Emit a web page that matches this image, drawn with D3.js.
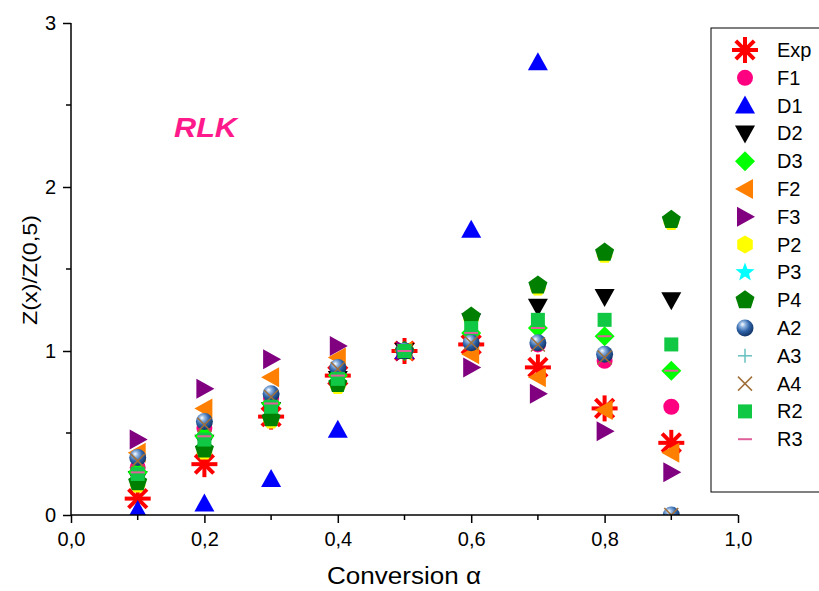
<!DOCTYPE html>
<html>
<head>
<meta charset="utf-8">
<script src="https://cdn.jsdelivr.net/npm/d3@7"></script>
<style>
  html, body { margin: 0; padding: 0; background: #fff; }
  svg { display: block; font-family: Arial, "Liberation Sans", sans-serif; }
</style>
</head>
<body>
<svg id="chart" width="819" height="591"></svg>
<script>
// ---- data ----
const alpha = [0.1, 0.2, 0.3, 0.4, 0.5, 0.6, 0.7, 0.8, 0.9];
const seriesNames = ["Exp", "F1", "D1", "D2", "D3", "F2", "F3", "P2", "P3", "P4", "A2", "A3", "A4", "R2", "R3"];
const Exp = [0.10, 0.31, 0.60, 0.85, 1.00, 1.04, 0.90, 0.65, 0.44];
const F1  = [0.29, 0.53, 0.71, 0.88, 1.00, 1.05, 1.04, 0.94, 0.66];
const D1  = [0.03, 0.07, 0.22, 0.52, 1.00, 1.74, 2.76, null, null];
const D2  = [0.22, 0.44, 0.64, 0.83, 1.00, 1.18, 1.27, 1.33, 1.31];
const D3  = [0.26, 0.48, 0.68, 0.85, 1.00, 1.11, 1.14, 1.09, 0.88];
const F2  = [0.38, 0.65, 0.84, 0.96, 1.00, 0.98, 0.84, 0.64, 0.38];
const F3  = [0.46, 0.77, 0.95, 1.03, 1.00, 0.90, 0.74, 0.51, 0.26];
const P2  = [0.18, 0.38, 0.57, 0.78, 1.00, 1.19, 1.38, 1.58, 1.78];
const P3  = [0.20, 0.40, 0.59, 0.80, 1.00, 1.21, 1.40, 1.60, 1.80];
const P4  = [0.20, 0.40, 0.59, 0.80, 1.00, 1.21, 1.40, 1.60, 1.80];
const A2  = [0.35, 0.57, 0.74, 0.90, 1.00, 1.05, 1.05, 0.98, 0.00];
const A3  = [0.35, 0.57, 0.74, 0.90, 1.00, 1.05, 1.05, 0.98, 0.00];
const A4  = [0.33, 0.55, 0.72, 0.89, 1.00, 1.05, 1.04, 0.96, 0.00];
const R2  = [0.25, 0.46, 0.66, 0.83, 1.00, 1.14, 1.19, 1.19, 1.04];
const R3  = [0.26, 0.48, 0.68, 0.85, 1.00, 1.11, 1.14, 1.09, 0.88];
const xTicks = [0, 0.2, 0.4, 0.6, 0.8, 1.0];
const xMinor = [0.1, 0.3, 0.5, 0.7, 0.9];
const yTicks = [0, 1, 2, 3];
const yMinor = [0.5, 1.5, 2.5];

const dataMap = {Exp, F1, D1, D2, D3, F2, F3, P2, P3, P4, A2, A3, A4, R2, R3};
// draw order (hidden series first)
const drawOrder = ["Exp", "F1", "D1", "D2", "D3", "F2", "F3", "P2", "P3", "P4", "A3", "A2", "A4", "R2", "R3"];

const svg = d3.select("#chart");
const x = d3.scaleLinear().domain([0, 1]).range([71, 738]);
const y = d3.scaleLinear().domain([0, 3]).range([515, 23]);

const defs = svg.append("defs");
const rg = defs.append("radialGradient").attr("id", "ball").attr("cx", "40%").attr("cy", "35%").attr("r", "65%").attr("fx", "35%").attr("fy", "28%");
rg.append("stop").attr("offset", "0%").attr("stop-color", "#ffffff");
rg.append("stop").attr("offset", "25%").attr("stop-color", "#8fb4e0");
rg.append("stop").attr("offset", "60%").attr("stop-color", "#2f63a8");
rg.append("stop").attr("offset", "100%").attr("stop-color", "#123466");
defs.append("clipPath").attr("id", "plotclip").append("rect")
  .attr("x", x(0)).attr("y", 0).attr("width", x(1) - x(0) + 20).attr("height", y(0));

function poly(n, r, rot) {
  const pts = [];
  for (let i = 0; i < n; i++) {
    const a = rot + i * 2 * Math.PI / n;
    pts.push([r * Math.cos(a), r * Math.sin(a)]);
  }
  return "M" + pts.map(p => p.join(",")).join("L") + "Z";
}
function star5(ro, ri) {
  const pts = [];
  for (let i = 0; i < 10; i++) {
    const r = i % 2 ? ri : ro;
    const a = -Math.PI / 2 + i * Math.PI / 5;
    pts.push([r * Math.cos(a), r * Math.sin(a)]);
  }
  return "M" + pts.map(p => p.join(",")).join("L") + "Z";
}

function drawMarker(g, name, legend) {
  switch (name) {
    case "Exp": {
      const r = 13;
      [0, 45, 90, 135].forEach(a => {
        const rad = a * Math.PI / 180;
        g.append("line").attr("x1", -r * Math.cos(rad)).attr("y1", -r * Math.sin(rad))
          .attr("x2", r * Math.cos(rad)).attr("y2", r * Math.sin(rad))
          .attr("stroke", "#ff0000").attr("stroke-width", 4);
      });
      break;
    }
    case "F1": g.append("circle").attr("r", 8).attr("fill", "#ff0080"); break;
    case "D1": g.append("path").attr("d", "M0,-10L10,8L-10,8Z").attr("fill", "#0000ff"); break;
    case "D2": g.append("path").attr("d", "M0,10L10,-8L-10,-8Z").attr("fill", "#000000"); break;
    case "D3": g.append("path").attr("d", "M0,-10L10,0L0,10L-10,0Z").attr("fill", "#00ff00"); break;
    case "F2": g.append("path").attr("d", "M-10,0L8,-10L8,10Z").attr("fill", "#ff8000"); break;
    case "F3": g.append("path").attr("d", "M10,0L-8,-10L-8,10Z").attr("fill", "#800080"); break;
    case "P2": g.append("path").attr("d", legend ? poly(6, 9, Math.PI / 6) : poly(6, 8, 0)).attr("fill", "#ffff00"); break;
    case "P3": g.append("path").attr("d", star5(10, 4.2)).attr("fill", "#00ffff"); break;
    case "P4": g.append("path").attr("d", poly(5, 10, -Math.PI / 2)).attr("fill", "#007f00"); break;
    case "A2": g.append("circle").attr("r", 8.5).attr("fill", "url(#ball)"); break;
    case "A3":
      g.append("line").attr("x1", -7).attr("x2", 7).attr("stroke", "#66c0c0").attr("stroke-width", 1.5);
      g.append("line").attr("y1", -7).attr("y2", 7).attr("stroke", "#66c0c0").attr("stroke-width", 1.5);
      break;
    case "A4":
      g.append("line").attr("x1", -7).attr("y1", -7).attr("x2", 7).attr("y2", 7).attr("stroke", "#a0703a").attr("stroke-width", 1.5);
      g.append("line").attr("x1", -7).attr("y1", 7).attr("x2", 7).attr("y2", -7).attr("stroke", "#a0703a").attr("stroke-width", 1.5);
      break;
    case "R2": g.append("rect").attr("x", -7).attr("y", -7).attr("width", 14).attr("height", 14).attr("fill", "#11c844"); break;
    case "R3": g.append("line").attr("x1", -7).attr("x2", 7).attr("stroke", "#e0609a").attr("stroke-width", 2); break;
  }
}

// points (clipped to plot area)
const plot = svg.append("g").attr("clip-path", "url(#plotclip)");
drawOrder.forEach(name => {
  const vals = dataMap[name];
  alpha.forEach((a, i) => {
    const v = vals[i];
    if (v === null || v === undefined) return;
    const g = plot.append("g").attr("transform", `translate(${x(a)},${y(v)})`);
    drawMarker(g, name, false);
  });
});

// axes
const xAxis = d3.axisBottom(x).tickValues(xTicks).tickSize(8).tickPadding(9)
  .tickFormat(d => d3.format(".1f")(d).replace(".", ","));
const gx = svg.append("g").attr("transform", `translate(0,${y(0)})`).call(xAxis);
gx.select(".domain").attr("stroke", "#000").attr("stroke-width", 1.5).attr("d", `M${x(0)},0H${x(1)}`);
gx.selectAll(".tick line").attr("stroke-width", 1.5);
gx.selectAll(".tick text").attr("font-size", 20).attr("font-family", "Arial, 'Liberation Sans', sans-serif").attr("fill", "#000");
gx.selectAll(".minor").data(xMinor).enter().append("line").attr("class", "minor")
  .attr("x1", d => x(d)).attr("x2", d => x(d)).attr("y1", 0).attr("y2", 5)
  .attr("stroke", "#000").attr("stroke-width", 1.5);

const yAxis = d3.axisLeft(y).tickValues(yTicks).tickSize(8).tickPadding(7).tickFormat(d3.format("d"));
const gy = svg.append("g").attr("transform", `translate(${x(0)},0)`).call(yAxis);
gy.select(".domain").attr("stroke", "#000").attr("stroke-width", 1.5).attr("d", `M0,${y(0)}V${y(3)}`);
gy.selectAll(".tick line").attr("stroke-width", 1.5);
gy.selectAll(".tick text").attr("font-size", 20).attr("font-family", "Arial, 'Liberation Sans', sans-serif").attr("fill", "#000");
gy.selectAll(".minor").data(yMinor).enter().append("line").attr("class", "minor")
  .attr("x1", 0).attr("x2", -5).attr("y1", d => y(d)).attr("y2", d => y(d))
  .attr("stroke", "#000").attr("stroke-width", 1.5);

// axis titles
svg.append("text").attr("x", 404).attr("y", 584).attr("text-anchor", "middle")
  .attr("font-size", 23).attr("fill", "#000")
  .attr("textLength", 154).attr("lengthAdjust", "spacingAndGlyphs").text("Conversion α");
svg.append("text").attr("transform", "translate(37,270) rotate(-90)").attr("text-anchor", "middle")
  .attr("font-size", 21).attr("fill", "#000")
  .attr("textLength", 110).attr("lengthAdjust", "spacingAndGlyphs").text("Z(x)/Z(0,5)");

// annotation
svg.append("text").attr("x", 174).attr("y", 137).attr("font-size", 28).attr("font-weight", "bold")
  .attr("font-style", "italic").attr("fill", "#ff1a8c")
  .attr("textLength", 63).attr("lengthAdjust", "spacingAndGlyphs").text("RLK");

// legend
const leg = svg.append("g");
leg.append("rect").attr("x", 711).attr("y", 28).attr("width", 120).attr("height", 464)
  .attr("fill", "#fff").attr("stroke", "#000").attr("stroke-width", 1);
seriesNames.forEach((name, i) => {
  const yy = 50 + i * 27.8;
  const g = leg.append("g").attr("transform", `translate(745,${yy})`);
  drawMarker(g, name, true);
  leg.append("text").attr("x", 777).attr("y", yy + 7).attr("font-size", 20).attr("fill", "#000").text(name);
});
</script>
</body>
</html>
